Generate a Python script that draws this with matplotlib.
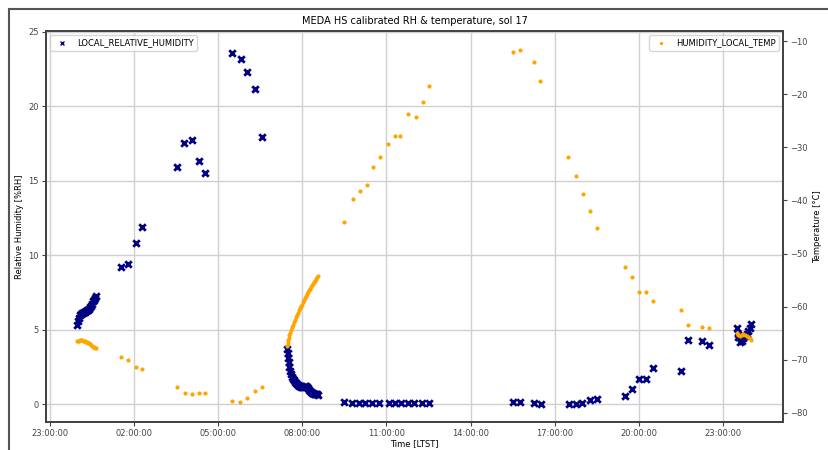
import matplotlib
matplotlib.use("Agg")
import matplotlib.pyplot as plt
from matplotlib.lines import Line2D
from matplotlib.ticker import FuncFormatter

# time in hours LTST (-1 = 23:00 of the previous sol)
rh_time = [
    -0.04, 0.00, 0.04, 0.07, 0.11, 0.14, 0.18, 0.21, 0.25, 0.29,
    0.32, 0.36, 0.39, 0.43, 0.46, 0.50, 0.54, 0.57, 0.61, 0.64,
    1.52, 1.80, 2.06, 2.30, 3.52, 3.79, 4.06, 4.30, 4.54,
    5.51, 5.81, 6.02, 6.31, 6.55,
    7.46, 7.48, 7.50, 7.52, 7.54, 7.57, 7.61, 7.64, 7.68, 7.71, 7.75, 7.79,
    7.82, 7.86, 7.89, 7.93, 7.96, 8.00, 8.04, 8.07, 8.11, 8.14, 8.18,
    8.21, 8.25, 8.29, 8.32, 8.36, 8.39, 8.43, 8.46, 8.50, 8.54, 8.57,
    9.50, 9.78, 10.02, 10.25, 10.49, 10.75, 11.08, 11.29, 11.52, 11.76,
    12.00, 12.27, 12.51,
    15.51, 15.77, 16.26, 16.50, 17.50, 17.75, 17.99, 18.27, 18.51,
    19.50, 19.77, 20.01, 20.27, 20.49, 21.50, 21.76, 22.26, 22.50,
    23.49, 23.52, 23.55, 23.61, 23.67, 23.73, 23.79, 23.84, 23.90, 23.95, 24.00,
]
rh_values = [
    5.3, 5.6, 5.8, 5.95, 6.05, 6.1, 6.15, 6.2, 6.2, 6.25,
    6.3, 6.35, 6.4, 6.5, 6.6, 6.75, 6.9, 7.0, 7.15, 7.25,
    9.2, 9.4, 10.8, 11.9, 15.95, 17.5, 17.7, 16.3, 15.5,
    23.6, 23.2, 22.3, 21.15, 17.95,
    3.7, 3.4, 3.1, 2.8, 2.5, 2.2, 2.0, 1.85, 1.7, 1.6, 1.5, 1.4,
    1.35, 1.3, 1.25, 1.2, 1.18, 1.15, 1.15, 1.15, 1.2, 1.22, 1.15,
    1.05, 0.95, 0.88, 0.82, 0.77, 0.73, 0.7, 0.68, 0.66, 0.65, 0.64,
    0.15, 0.05, 0.05, 0.05, 0.05, 0.05, 0.05, 0.05, 0.05, 0.05,
    0.05, 0.05, 0.05,
    0.13, 0.13, 0.07, 0.02, 0.02, 0.02, 0.07, 0.27, 0.36,
    0.56, 0.99, 1.70, 1.70, 2.40, 2.22, 4.32, 4.21, 3.94,
    5.1, 4.7, 4.5, 4.2, 4.25, 4.45, 4.55, 4.7, 4.9, 5.1, 5.35,
]

temp_time = [
    -0.04, 0.00, 0.04, 0.07, 0.11, 0.14, 0.18, 0.21, 0.25, 0.29,
    0.32, 0.36, 0.39, 0.43, 0.46, 0.50, 0.54, 0.57, 0.61, 0.64,
    1.52, 1.80, 2.06, 2.30, 3.52, 3.80, 4.06, 4.32, 4.54,
    5.51, 5.77, 6.02, 6.31, 6.55,
    7.46, 7.48, 7.50, 7.52, 7.54, 7.57, 7.61, 7.64, 7.68, 7.71, 7.75, 7.79,
    7.82, 7.86, 7.89, 7.93, 7.96, 8.00, 8.04, 8.07, 8.11, 8.14, 8.18,
    8.21, 8.25, 8.29, 8.32, 8.36, 8.39, 8.43, 8.46, 8.50, 8.54, 8.57,
    9.50, 9.80, 10.04, 10.30, 10.51, 10.77, 11.05, 11.29, 11.50, 11.78,
    12.04, 12.29, 12.51,
    15.51, 15.77, 16.27, 16.49, 17.49, 17.75, 18.01, 18.25, 18.50,
    19.50, 19.77, 20.01, 20.27, 20.49, 21.50, 21.76, 22.26, 22.50,
    23.49, 23.52, 23.55, 23.61, 23.67, 23.73, 23.79, 23.84, 23.90, 23.95, 24.00,
]
temp_values = [
    -66.4, -66.4, -66.4, -66.3, -66.3, -66.3, -66.4, -66.5, -66.5, -66.6,
    -66.7, -66.8, -66.9, -67.0, -67.2, -67.3, -67.5, -67.6, -67.7, -67.8,
    -69.4, -70.1, -71.3, -71.7, -75.1, -76.3, -76.5, -76.3, -76.2,
    -77.8, -77.9, -77.2, -75.9, -75.2,
    -67.3, -66.8, -66.3, -65.9, -65.4, -64.9, -64.4, -63.9, -63.4, -62.9, -62.5, -62.0,
    -61.6, -61.1, -60.7, -60.3, -59.9, -59.6, -59.2, -58.8, -58.4, -58.0, -57.7,
    -57.3, -56.9, -56.6, -56.3, -56.0, -55.7, -55.4, -55.1, -54.8, -54.5, -54.3,
    -44.1, -39.8, -38.3, -37.0, -33.7, -31.8, -29.3, -27.8, -27.8, -23.7,
    -24.2, -21.4, -18.4,
    -12.1, -11.6, -14.0, -17.6, -31.8, -35.4, -38.7, -41.9, -45.2,
    -52.6, -54.4, -57.3, -57.3, -58.9, -60.7, -63.5, -63.8, -64.0,
    -65.0, -65.2, -65.3, -65.5, -65.3, -65.2, -65.4, -65.5, -65.7, -65.9, -66.2,
]

tick_hours = [-1, 2, 5, 8, 11, 14, 17, 20, 23]


def hms(h, pos=None):
    return "%02d:00:00" % (int(round(h)) % 24)


fig = plt.figure(figsize=(8.29, 4.5), dpi=100)
ax = fig.add_axes([0.0555, 0.0622, 0.889, 0.869])
ax2 = ax.twinx()

ax.scatter(rh_time, rh_values, marker="x", s=22, linewidths=2,
           color="navy", label="LOCAL_RELATIVE_HUMIDITY", zorder=3)
ax2.scatter(temp_time, temp_values, marker="o", s=9, linewidths=0,
            color="orange", label="HUMIDITY_LOCAL_TEMP", zorder=3)

ax.set_xlim(-1.14, 25.14)
ax.set_ylim(-1.2, 25.05)
ax2.set_ylim(-81.7, -8.1)
ax.set_xticks(tick_hours)
ax.xaxis.set_major_formatter(FuncFormatter(hms))
ax.set_yticks([0, 5, 10, 15, 20, 25])
ax2.set_yticks([-80, -70, -60, -50, -40, -30, -20, -10])

ax.grid(True, color="#d0d0d0", linewidth=1)
ax.set_axisbelow(True)

for a in (ax, ax2):
    a.tick_params(labelsize=6, colors="#444444", length=3, pad=2)
    for s in a.spines.values():
        s.set_color("#444444")
        s.set_linewidth(1.3)

ax.set_title("MEDA HS calibrated RH & temperature, sol 17", fontsize=7, pad=5)
ax.set_xlabel("Time [LTST]", fontsize=6, labelpad=1)
ax.set_ylabel("Relative Humidity [%RH]", fontsize=6, labelpad=3)
ax2.set_ylabel("Temperature [\u00b0C]", fontsize=6, labelpad=4)

leg1 = ax.legend(loc="upper left", fontsize=6, markerscale=0.6, framealpha=0.8)
for h in leg1.legend_handles:
    h.set_linewidths(1)
ax2.legend(loc="upper right", fontsize=6, markerscale=0.8, framealpha=0.8)

# frame lines from the page screenshot
fig.add_artist(Line2D([9 / 829, 1], [1 - 9 / 450, 1 - 9 / 450],
                      transform=fig.transFigure, color="#555555", linewidth=1.5))
fig.add_artist(Line2D([9 / 829, 9 / 829], [0, 1 - 9 / 450],
                      transform=fig.transFigure, color="#555555", linewidth=1.5))

fig.savefig("out.png", dpi=100)
